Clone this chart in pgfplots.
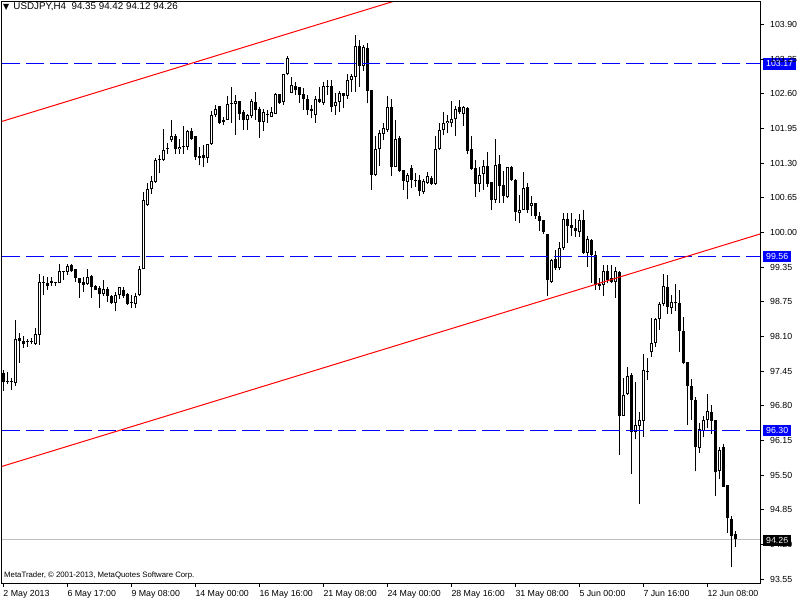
\documentclass[border=0pt]{standalone}
\usepackage{fontspec}
\setmainfont{Liberation Sans}
\newfontfamily\dejavu{DejaVu Sans}
\usepackage{pgfplots}
\pgfplotsset{compat=1.18}
\usepackage{pgfplotstable}
\definecolor{bidgray}{RGB}{192,192,192}
\definecolor{mtblue}{RGB}{0,0,255}

\pgfplotstableread{
i o h l c
0 97.38 97.43 97.04 97.21
1 97.23 97.39 97.17 97.21
2 97.20 97.29 97.06 97.22
3 97.18 98.37 97.14 98.01
4 98.03 98.12 97.56 97.98
5 97.98 98.06 97.84 97.91
6 97.96 98.01 97.87 97.98
7 97.96 98.03 97.92 97.95
8 97.92 98.21 97.90 98.11
9 98.08 99.23 97.90 99.08
10 99.08 99.19 98.84 99.07
11 99.06 99.18 98.94 99.00
12 99.10 99.18 99.01 99.06
13 99.06 99.09 99.01 99.06
14 99.06 99.42 99.06 99.28
15 99.26 99.29 99.12 99.29
16 99.26 99.42 99.21 99.39
17 99.40 99.41 99.27 99.28
18 99.33 99.33 99.09 99.16
19 99.16 99.16 98.79 99.06
20 99.08 99.17 98.89 99.03
21 99.04 99.33 99.03 99.17
22 99.19 99.21 98.79 98.98
23 99.00 99.03 98.93 98.94
24 98.96 99.01 98.60 98.85
25 98.85 99.12 98.82 98.95
26 98.95 98.98 98.71 98.82
27 98.81 98.84 98.66 98.68
28 98.68 98.90 98.53 98.83
29 98.83 98.99 98.76 98.98
30 98.94 98.98 98.79 98.82
31 98.86 98.87 98.65 98.67
32 98.68 98.84 98.60 98.68
33 98.67 98.87 98.60 98.82
34 98.83 99.38 98.81 99.32
35 99.32 100.76 99.32 100.61
36 100.53 100.93 100.51 100.82
37 100.82 101.06 100.74 100.97
38 100.96 101.41 100.94 101.37
39 101.36 101.46 101.12 101.38
40 101.37 101.95 101.35 101.56
41 101.57 101.68 101.48 101.58
42 101.74 102.12 101.71 101.82
43 101.82 101.85 101.48 101.57
44 101.57 101.77 101.49 101.62
45 101.63 102.01 101.49 101.61
46 101.62 101.94 101.56 101.92
47 101.92 101.96 101.74 101.77
48 101.81 101.81 101.37 101.42
49 101.44 101.62 101.27 101.40
50 101.46 101.65 101.23 101.40
51 101.40 101.66 101.31 101.66
52 101.66 102.29 101.65 102.22
53 102.22 102.40 102.18 102.32
54 102.38 102.38 102.04 102.07
55 102.12 102.18 102.03 102.08
56 102.12 102.56 102.11 102.42
57 102.42 102.73 102.07 102.44
58 102.42 102.59 101.84 102.48
59 102.47 102.47 102.12 102.23
60 102.27 102.31 101.93 102.11
61 102.12 102.24 101.94 102.21
62 102.19 102.51 102.15 102.48
63 102.45 102.65 102.12 102.31
64 102.32 102.37 101.79 102.09
65 102.09 102.32 101.91 102.26
66 102.21 102.31 102.06 102.21
67 102.18 102.36 102.17 102.27
68 102.24 102.63 102.24 102.61
69 102.61 102.61 102.42 102.44
70 102.46 102.98 102.40 102.98
71 102.98 103.31 102.96 103.28
72 102.63 102.93 102.62 102.77
73 102.76 102.84 102.59 102.69
74 102.73 102.74 102.43 102.59
75 102.61 102.71 102.31 102.51
76 102.52 102.59 102.21 102.31
77 102.32 102.40 102.15 102.29
78 102.22 102.56 102.06 102.52
79 102.52 102.74 102.43 102.46
80 102.44 102.84 102.40 102.76
81 102.74 102.86 102.59 102.75
82 102.76 102.86 102.27 102.36
83 102.38 102.62 102.22 102.46
84 102.46 102.66 102.26 102.63
85 102.62 102.63 102.34 102.56
86 102.57 102.99 102.52 102.87
87 102.87 102.99 102.65 102.94
88 102.93 103.71 102.65 103.51
89 103.51 103.62 102.74 103.14
90 103.13 103.52 103.04 103.48
91 103.46 103.56 102.43 102.66
92 102.68 102.69 100.81 101.09
93 101.09 101.82 101.07 101.57
94 101.57 101.93 101.26 101.87
95 101.86 102.06 101.74 101.96
96 101.94 102.57 101.90 102.36
97 102.36 102.51 101.06 101.24
98 101.24 102.11 101.23 101.76
99 101.78 101.81 101.15 101.17
100 101.19 101.19 100.81 100.98
101 100.96 101.12 100.63 101.09
102 101.21 101.27 100.84 100.99
103 100.99 101.12 100.87 100.97
104 100.99 101.09 100.69 100.79
105 100.77 101.01 100.74 100.98
106 100.94 101.15 100.92 101.07
107 101.04 101.07 100.90 100.92
108 100.92 101.81 100.90 101.57
109 101.57 102.06 101.56 101.93
110 101.94 102.26 101.84 102.07
111 102.06 102.21 101.87 102.10
112 102.06 102.48 101.98 102.13
113 102.13 102.38 101.82 102.32
114 102.36 102.49 102.24 102.26
115 102.24 102.38 102.01 102.36
116 102.34 102.37 101.48 101.54
117 101.57 101.81 101.18 101.20
118 101.21 101.37 100.68 100.92
119 100.92 101.24 100.76 101.09
120 101.11 101.36 100.81 101.26
121 101.26 101.52 100.86 100.92
122 100.95 100.95 100.43 100.62
123 100.62 101.77 100.56 101.27
124 101.29 101.46 100.56 100.88
125 100.90 101.17 100.56 100.69
126 100.67 101.24 100.65 101.23
127 101.23 101.26 100.98 100.99
128 100.99 101.01 100.23 100.40
129 100.38 100.71 100.18 100.43
130 100.44 101.15 100.43 100.84
131 100.86 100.94 100.38 100.43
132 100.51 100.69 100.32 100.57
133 100.56 100.57 100.27 100.32
134 100.32 100.40 100.04 100.23
135 100.24 100.24 99.98 100.02
136 99.99 99.99 98.81 99.11
137 99.09 99.51 99.07 99.49
138 99.51 99.68 99.31 99.34
139 99.35 99.84 99.31 99.71
140 99.71 100.37 99.69 100.26
141 100.26 100.37 99.82 100.13
142 100.15 100.37 99.94 100.10
143 100.09 100.26 99.93 100.04
144 100.01 100.36 99.93 100.24
145 100.24 100.44 99.61 99.63
146 99.63 99.94 99.37 99.88
147 99.87 99.88 99.07 99.59
148 99.59 99.67 98.93 99.03
149 99.04 99.15 98.94 99.00
150 99.03 99.40 98.82 99.28
151 99.28 99.40 99.06 99.11
152 99.15 99.40 99.06 99.09
153 99.08 99.37 98.79 99.28
154 99.26 99.28 95.84 96.57
155 96.57 97.28 96.56 96.96
156 96.98 97.49 96.96 97.32
157 97.34 97.37 95.48 96.26
158 96.26 97.21 96.13 96.40
159 96.39 96.65 94.92 96.49
160 96.48 97.74 96.18 97.43
161 97.42 97.65 97.24 97.40
162 97.76 98.40 97.67 97.94
163 97.94 98.40 97.87 98.38
164 98.38 98.71 98.19 98.67
165 98.67 99.24 98.63 99.01
166 98.98 99.21 98.49 98.61
167 98.59 98.84 98.49 98.71
168 98.71 99.04 98.54 98.68
169 98.68 98.94 97.76 98.17
170 98.17 98.42 97.54 97.56
171 97.58 97.58 96.40 97.13
172 97.13 97.26 96.49 96.86
173 96.87 96.93 95.53 95.98
174 95.96 96.43 95.87 96.32
175 96.29 96.57 96.17 96.49
176 96.49 96.98 96.34 96.66
177 96.64 96.78 96.24 96.48
178 96.49 96.49 95.07 95.51
179 95.53 95.99 95.38 95.94
180 95.98 96.04 95.24 95.24
181 95.28 95.28 94.38 94.65
182 94.63 94.69 93.73 94.32
183 94.35 94.42 94.12 94.26
}\candles

\begin{document}
\begin{tikzpicture}[x=1pt,y=1pt]
\fill[white,use as bounding box] (0,0) rectangle (800,600);
\begin{axis}[
  at={(2pt,17pt)}, anchor=south west,
  scale only axis, width=758pt, height=581pt,
  xmin=-0.325, xmax=189.175, ymin=93.4375, ymax=104.33125,
  axis on top,
  clip mode=individual,
  axis line style={black, line width=1pt},
  tick align=outside, major tick length=4pt,
  tick style={black, line width=1pt},
  xtick pos=left, ytick pos=right, yticklabel pos=right,
  xtick={0,16,32,48,64,80,96,112,128,144,160,176},
  xticklabels={2 May 2013,6 May 17:00,9 May 08:00,14 May 00:00,16 May 16:00,21 May 08:00,24 May 00:00,28 May 16:00,31 May 08:00,5 Jun 00:00,7 Jun 16:00,12 Jun 08:00},
  ytick={103.91,103.26,102.61,101.96,101.31,100.66,100.01,99.36,98.71,98.06,97.41,96.76,96.11,95.46,94.81,94.16,93.51},
  yticklabels={103.90,103.25,102.60,101.95,101.30,100.65,100.00,99.35,98.75,98.10,97.45,96.80,96.15,95.50,94.85,94.20,93.55},
  tick label style={font=\fontsize{8.8}{10}\selectfont, inner sep=0pt},
  yticklabel style={anchor=west, xshift=6pt},
  xticklabel style={anchor=north west, yshift=-3pt},
]
% bid line
\addplot[bidgray, line width=1pt] coordinates {(-0.325,94.26) (189.175,94.26)};
% wicks
\addplot[draw=none, mark=none, error bars/.cd, y dir=plus, y explicit, error mark=none,
  error bar style={draw=black, line width=1pt, solid}]
  table[x=i, y=l, y error plus expr={\thisrow{h}-\thisrow{l}}] {\candles};
% bodies
\addplot[draw=none, mark=none, error bars/.cd, y dir=plus, y explicit, error mark=none,
  error bar style={draw=black, line width=3pt, solid}]
  table[x=i, y expr={min(\thisrow{o},\thisrow{c})}, y error plus expr={max(abs(\thisrow{c}-\thisrow{o}),0.01875)}] {\candles};
% white interiors of bullish bodies
\addplot[draw=none, mark=none, error bars/.cd, y dir=plus, y explicit, error mark=none,
  error bar style={draw=white, line width=1pt, solid}]
  table[x=i, y expr={\thisrow{o}+0.01875}, y error plus expr={max(\thisrow{c}-\thisrow{o}-0.0375,0)}] {\candles};
% horizontal levels
\addplot[mtblue, line width=1pt, dash pattern=on 18pt off 6pt] coordinates {(-0.325,103.17) (189.175,103.17)};
\addplot[mtblue, line width=1pt, dash pattern=on 18pt off 6pt] coordinates {(-0.325,99.56) (189.175,99.56)};
\addplot[mtblue, line width=1pt, dash pattern=on 18pt off 6pt] coordinates {(-0.325,96.30) (189.175,96.30)};
% trend channel
\addplot[red, line width=1pt] coordinates {(-0.325,95.624) (189.175,99.981)};
\addplot[red, line width=1pt] coordinates {(-0.325,102.0925) (189.175,106.45)};
% price boxes
\begin{scope}[every node/.style={anchor=west, inner xsep=3pt, inner ysep=1.5pt, text height=7pt, text depth=1.5pt, text=white, font=\fontsize{8.8}{10}\selectfont}]
\node[fill=mtblue] at (axis cs:189.175,103.17) [xshift=3pt] {103.17};
\node[fill=mtblue] at (axis cs:189.175,99.56) [xshift=3pt] {99.56};
\node[fill=mtblue] at (axis cs:189.175,96.30) [xshift=3pt] {96.30};
\node[fill=black] at (axis cs:189.175,94.26) [xshift=3pt, yshift=-1.5pt] {94.26};
\end{scope}
% title and copyright
\node[anchor=base west, inner sep=0pt, font=\dejavu\fontsize{8}{9}\selectfont] at (rel axis cs:0,1) [xshift=1pt, yshift=-8pt] {▼};
\node[anchor=base west, inner sep=0pt, font=\fontsize{9.8}{11}\selectfont] at (rel axis cs:0,1) [xshift=11.3pt, yshift=-8pt] {USDJPY,H4\ \ 94.35 94.42 94.12 94.26};
\node[anchor=base west, inner sep=0pt, font=\fontsize{7.8}{9}\selectfont] at (rel axis cs:0,0) [xshift=2pt, yshift=5.5pt] {MetaTrader, © 2001-2013, MetaQuotes Software Corp.};
\end{axis}
\end{tikzpicture}
\end{document}
